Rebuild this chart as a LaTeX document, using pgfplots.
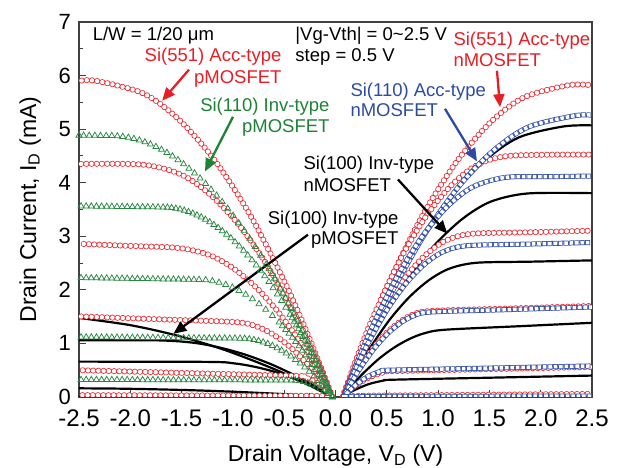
\documentclass[border=0pt]{standalone}
\usepackage{pgfplots}
\pgfplotsset{compat=1.18}
\usepackage{fontspec}
\setmainfont{Liberation Sans}
\usetikzlibrary{arrows.meta}
\definecolor{mred}{RGB}{236,32,40}
\definecolor{mgreen}{RGB}{40,135,65}
\definecolor{mblue}{RGB}{50,80,170}
\definecolor{tred}{RGB}{232,30,38}
\definecolor{tgreen}{RGB}{30,130,55}
\definecolor{tblue}{RGB}{45,75,165}
\newcommand\ann{\fontsize{18.5}{22}\selectfont}
\tikzset{
 circ/.style={mred, smooth, line width=0.8pt, double=white, double distance=4.4pt, line cap=round, dash pattern=on 0.01pt off 5.2pt},
 sq/.style={mblue, smooth, line width=0.75pt, double=white, double distance=3.5pt, line cap=rect, dash pattern=on 0.01pt off 5.4pt},
 tri/.style={mgreen, only marks, mark=triangle, mark size=3.5pt, mark options={mgreen, line width=0.75pt}},
 blk/.style={black, line width=2.2pt, smooth},
 arr/.style={-{Triangle[length=13pt,width=11pt]}, line width=2.3pt},
}
\begin{document}
\begin{tikzpicture}
\begin{axis}[
 name=ax,
 scale only axis, width=513pt, height=375pt,
 xmin=-2.5, xmax=2.5, ymin=0, ymax=7,
 xtick={-2.5,-2.0,-1.5,-1.0,-0.5,0,0.5,1.0,1.5,2.0,2.5},
 xticklabels={-2.5,-2.0,-1.5,-1.0,-0.5,0.0,0.5,1.0,1.5,2.0,2.5},
 minor x tick num=1,
 ytick={0,1,2,3,4,5,6,7}, minor y tick num=1,
 tick align=inside, tick pos=left,
 major tick length=7pt, minor tick length=4pt,
 axis line style={line width=1.1pt, black!75},
 every tick/.style={line width=0.9pt, black!75},
 /pgf/number format/assume math mode=true,
 yticklabel style={font=\fontsize{22}{26}\selectfont, inner sep=0pt, anchor=east, xshift=-8pt},
 xticklabel style={font=\fontsize{24}{28}\selectfont, inner sep=0pt, anchor=north, yshift=-13pt},
 xlabel={Drain Voltage, V\textsubscript{D} (V)},
 ylabel={Drain Current, I\textsubscript{D} (mA)},
 label style={font=\fontsize{23}{27}\selectfont},
 xlabel style={at={(axis description cs:0.5,-0.1733)}, anchor=base},
 ylabel style={at={(axis description cs:-0.0838,0.5)}, anchor=base},
]
% Si(100) Inv-type pMOSFET (black)
\addplot[blk] coordinates {(-0.03,0) (-0.33,0.289) (-0.63,0.547) (-1.08,0.878) (-1.53,1.14) (-1.98,1.334) (-2.43,1.459) (-2.5,1.472)};
\addplot[blk] coordinates {(-0.03,0) (-0.20,0.200) (-0.37,0.380) (-0.625,0.609) (-0.88,0.791) (-1.135,0.926) (-1.39,1.014) (-1.73,1.057) (-2.5,1.06)};
\addplot[blk] coordinates {(-0.03,0) (-0.15,0.124) (-0.27,0.235) (-0.45,0.377) (-0.63,0.490) (-0.81,0.573) (-0.99,0.628) (-1.23,0.655) (-2.5,0.66)};
\addplot[blk] coordinates {(-0.03,0) (-0.29,0.031) (-0.55,0.058) (-0.94,0.094) (-1.33,0.122) (-1.72,0.142) (-2.11,0.156) (-2.5,0.162)};
\addplot[blk] coordinates {(-0.03,0) (-2.5,0.008)};
% Si(100) Inv-type nMOSFET (black)
\addplot[blk] coordinates {(0.07,0) (0.285,0.960) (0.50,1.818) (0.823,2.916) (1.145,3.788) (1.468,4.431) (1.79,4.848) (2.22,5.05) (2.5,5.07)};
\addplot[blk] coordinates {(0.07,0) (0.25,0.721) (0.43,1.365) (0.70,2.190) (0.97,2.845) (1.24,3.329) (1.51,3.644) (1.87,3.799) (2.5,3.805)};
\addplot[blk] coordinates {(0.07,0) (0.20,0.474) (0.33,0.895) (0.525,1.436) (0.72,1.866) (0.915,2.187) (1.11,2.396) (1.37,2.505) (1.9,2.526) (2.5,2.55)};
\addplot[blk] coordinates {(0.07,0) (0.17,0.235) (0.27,0.442) (0.42,0.708) (0.57,0.921) (0.72,1.083) (0.87,1.192) (1.07,1.256) (1.8,1.322) (2.5,1.385)};
\addplot[blk] coordinates {(0.07,0) (0.17,0.115) (0.32,0.238) (0.47,0.307) (0.57,0.323) (1.5,0.36) (2.5,0.40)};
\addplot[blk] coordinates {(0.07,0) (2.5,0.008)};
% Si(110) Inv-type pMOSFET (green triangles)
\addplot[tri] coordinates {(-0.03,0.001) (-0.084,0.240) (-0.138,0.473) (-0.191,0.701) (-0.245,0.922) (-0.299,1.137) (-0.353,1.346) (-0.406,1.550) (-0.46,1.747) (-0.514,1.938) (-0.568,2.123) (-0.621,2.302) (-0.675,2.475) (-0.729,2.642) (-0.783,2.803) (-0.836,2.958) (-0.89,3.107) (-0.944,3.250) (-0.998,3.387) (-1.051,3.518) (-1.105,3.643) (-1.159,3.762) (-1.213,3.874) (-1.266,3.981) (-1.32,4.082) (-1.374,4.177) (-1.428,4.265) (-1.481,4.348) (-1.535,4.425) (-1.589,4.495) (-1.643,4.560) (-1.696,4.618) (-1.75,4.671) (-1.804,4.718) (-1.858,4.758) (-1.911,4.793) (-1.965,4.821) (-2.019,4.843) (-2.073,4.860) (-2.126,4.870) (-2.18,4.875) (-2.235,4.876) (-2.29,4.877) (-2.345,4.879) (-2.4,4.880) (-2.455,4.881) (-2.5,4.883)
 (-0.057,0.121) (-0.111,0.358) (-0.164,0.588) (-0.218,0.812) (-0.272,1.030) (-0.326,1.243) (-0.379,1.449) (-0.433,1.649) (-0.487,1.843) (-0.541,2.031) (-0.594,2.213) (-0.648,2.389)};
\addplot[tri] coordinates {(-0.03,0.001) (-0.071,0.175) (-0.113,0.344) (-0.154,0.509) (-0.195,0.670) (-0.236,0.826) (-0.278,0.978) (-0.319,1.126) (-0.36,1.269) (-0.401,1.408) (-0.443,1.542) (-0.484,1.672) (-0.525,1.798) (-0.566,1.920) (-0.608,2.036) (-0.649,2.149) (-0.69,2.257) (-0.731,2.361) (-0.773,2.461) (-0.814,2.556) (-0.855,2.646) (-0.896,2.733) (-0.938,2.815) (-0.979,2.892) (-1.02,2.966) (-1.061,3.034) (-1.103,3.099) (-1.144,3.159) (-1.185,3.215) (-1.226,3.266) (-1.268,3.313) (-1.309,3.356) (-1.35,3.394) (-1.391,3.428) (-1.433,3.457) (-1.474,3.482) (-1.515,3.503) (-1.556,3.519) (-1.598,3.531) (-1.639,3.539) (-1.68,3.542) (-1.73,3.543) (-1.78,3.545) (-1.83,3.546) (-1.88,3.547) (-1.93,3.548) (-1.98,3.550) (-2.03,3.551) (-2.08,3.552) (-2.13,3.553) (-2.18,3.555) (-2.23,3.556) (-2.28,3.557) (-2.33,3.558) (-2.38,3.560) (-2.43,3.561) (-2.48,3.562)
 (-0.051,0.088) (-0.092,0.260) (-0.133,0.427) (-0.174,0.590) (-0.216,0.749) (-0.257,0.903) (-0.298,1.053) (-0.339,1.198) (-0.381,1.339) (-0.422,1.476)};
\addplot[tri] coordinates {(-0.03,0.001) (-0.095,0.213) (-0.16,0.413) (-0.225,0.603) (-0.29,0.783) (-0.355,0.951) (-0.42,1.109) (-0.485,1.256) (-0.55,1.393) (-0.615,1.518) (-0.68,1.633) (-0.745,1.737) (-0.81,1.830) (-0.875,1.913) (-0.94,1.985) (-1.005,2.046) (-1.07,2.096) (-1.135,2.136) (-1.2,2.165) (-1.265,2.183) (-1.33,2.190) (-1.38,2.191) (-1.43,2.193) (-1.48,2.194) (-1.53,2.196) (-1.58,2.197) (-1.63,2.199) (-1.68,2.200) (-1.73,2.202) (-1.78,2.203) (-1.83,2.205) (-1.88,2.206) (-1.93,2.208) (-1.98,2.209) (-2.03,2.211) (-2.08,2.212) (-2.13,2.214) (-2.18,2.215) (-2.23,2.217) (-2.28,2.218) (-2.33,2.220) (-2.38,2.221) (-2.43,2.223) (-2.48,2.224)
 (-0.063,0.108) (-0.128,0.314) (-0.193,0.510) (-0.258,0.694) (-0.323,0.868) (-0.388,1.032) (-0.453,1.184) (-0.518,1.326)};
\addplot[tri] coordinates {(-0.03,0) (-0.075,0.106) (-0.12,0.207) (-0.165,0.302) (-0.21,0.392) (-0.255,0.476) (-0.30,0.555) (-0.345,0.629) (-0.39,0.697) (-0.435,0.760) (-0.48,0.817) (-0.525,0.869) (-0.57,0.916) (-0.615,0.957) (-0.66,0.993) (-0.705,1.023) (-0.75,1.048) (-0.795,1.068) (-0.84,1.082) (-0.885,1.091) (-0.93,1.094) (-0.98,1.095) (-1.03,1.095) (-1.08,1.096) (-1.13,1.097) (-1.18,1.098) (-1.23,1.098) (-1.28,1.099) (-1.33,1.100) (-1.38,1.101) (-1.43,1.101) (-1.48,1.102) (-1.53,1.103) (-1.58,1.104) (-1.63,1.104) (-1.68,1.105) (-1.73,1.106) (-1.78,1.107) (-1.83,1.107) (-1.88,1.108) (-1.93,1.109) (-1.98,1.110) (-2.03,1.110) (-2.08,1.111) (-2.13,1.112) (-2.18,1.113) (-2.23,1.113) (-2.28,1.114) (-2.33,1.115) (-2.38,1.116) (-2.43,1.116) (-2.48,1.117)};
\addplot[tri] coordinates {(-0.03,0) (-0.07,0.059) (-0.11,0.112) (-0.15,0.159) (-0.19,0.199) (-0.23,0.234) (-0.27,0.262) (-0.31,0.284) (-0.35,0.299) (-0.39,0.309) (-0.43,0.312) (-0.48,0.312) (-0.53,0.313) (-0.58,0.313) (-0.63,0.313) (-0.68,0.313) (-0.73,0.314) (-0.78,0.314) (-0.83,0.314) (-0.88,0.314) (-0.93,0.315) (-0.98,0.315) (-1.03,0.315) (-1.08,0.315) (-1.13,0.316) (-1.18,0.316) (-1.23,0.316) (-1.28,0.316) (-1.33,0.317) (-1.38,0.317) (-1.43,0.317) (-1.48,0.317) (-1.53,0.318) (-1.58,0.318) (-1.63,0.318) (-1.68,0.318) (-1.73,0.319) (-1.78,0.319) (-1.83,0.319) (-1.88,0.319) (-1.93,0.320) (-1.98,0.320) (-2.03,0.320) (-2.08,0.320) (-2.13,0.321) (-2.18,0.321) (-2.23,0.321) (-2.28,0.321) (-2.33,0.322) (-2.38,0.322) (-2.43,0.322) (-2.48,0.322)};
% Si(551) Acc-type pMOSFET (red)
\addplot[circ] coordinates {(-0.03,0) (-0.26,1.121) (-0.49,2.124) (-0.835,3.407) (-1.18,4.425) (-1.525,5.177) (-1.87,5.664) (-2.33,5.90) (-2.5,5.90)};
\addplot[circ] coordinates {(-0.03,0) (-0.215,0.821) (-0.40,1.556) (-0.678,2.497) (-0.955,3.244) (-1.233,3.798) (-1.51,4.158) (-1.88,4.338) (-2.5,4.35)};
\addplot[circ] coordinates {(-0.03,0) (-0.18,0.519) (-0.33,0.984) (-0.555,1.580) (-0.78,2.057) (-1.005,2.414) (-1.23,2.652) (-1.53,2.782) (-2.0,2.82) (-2.5,2.86)};
\addplot[circ] coordinates {(-0.03,0) (-0.125,0.262) (-0.22,0.494) (-0.363,0.793) (-0.505,1.033) (-0.648,1.212) (-0.79,1.332) (-0.98,1.399) (-1.7,1.449) (-2.5,1.505)};
\addplot[circ] coordinates {(-0.03,0) (-0.10,0.140) (-0.205,0.291) (-0.31,0.376) (-0.38,0.394) (-1.5,0.45) (-2.5,0.50)};
\addplot[circ] coordinates {(-0.03,0) (-0.1,0.015) (-0.25,0.022) (-1.0,0.027) (-2.5,0.035)};
% Si(551) Acc-type nMOSFET (red)
\addplot[circ] coordinates {(0.07,0) (0.29,1.106) (0.51,2.095) (0.84,3.361) (1.17,4.365) (1.50,5.107) (1.83,5.587) (2.27,5.82) (2.5,5.82)};
\addplot[circ] coordinates {(0.07,0) (0.232,0.853) (0.394,1.614) (0.637,2.589) (0.88,3.364) (1.123,3.939) (1.366,4.313) (1.69,4.501) (2.5,4.525)};
\addplot[circ] coordinates {(0.07,0) (0.195,0.576) (0.32,1.089) (0.508,1.746) (0.695,2.270) (0.883,2.659) (1.07,2.915) (1.32,3.046) (1.9,3.075) (2.5,3.105)};
\addplot[circ] coordinates {(0.07,0) (0.155,0.304) (0.24,0.572) (0.368,0.917) (0.495,1.193) (0.623,1.397) (0.75,1.533) (0.92,1.605) (1.7,1.652) (2.5,1.70)};
\addplot[circ] coordinates {(0.07,0) (0.17,0.173) (0.32,0.358) (0.47,0.461) (0.57,0.483) (1.5,0.52) (2.5,0.56)};
\addplot[circ] coordinates {(0.07,0) (0.2,0.02) (0.4,0.026) (1.5,0.043) (2.5,0.058)};
% Si(110) Acc-type nMOSFET (blue)
\addplot[sq] coordinates {(0.08,0) (0.305,0.998) (0.53,1.89) (0.868,3.032) (1.205,3.938) (1.543,4.607) (1.88,5.04) (2.33,5.25) (2.5,5.26)};
\addplot[sq] coordinates {(0.08,0) (0.238,0.777) (0.396,1.470) (0.633,2.358) (0.87,3.064) (1.107,3.587) (1.344,3.928) (1.66,4.100) (2.1,4.113) (2.5,4.125)};
\addplot[sq] coordinates {(0.08,0) (0.20,0.534) (0.32,1.010) (0.50,1.619) (0.68,2.104) (0.86,2.465) (1.04,2.702) (1.28,2.824) (1.9,2.855) (2.5,2.885)};
\addplot[sq] coordinates {(0.08,0) (0.165,0.301) (0.25,0.566) (0.378,0.907) (0.505,1.178) (0.633,1.381) (0.76,1.515) (0.93,1.586) (1.7,1.632) (2.5,1.68)};
\addplot[sq] coordinates {(0.08,0) (0.17,0.180) (0.305,0.372) (0.44,0.479) (0.53,0.501) (1.5,0.54) (2.5,0.58)};
\addplot[sq] coordinates {(0.08,0) (0.3,0.008) (2.5,0.018)};
% annotations
\node[anchor=base west, font=\ann] at (axis cs:-2.40,6.65) {L/W = 1/20 μm};
\node[anchor=base west, font=\ann] at (axis cs:-0.425,6.65) {|Vg-Vth| = 0\textasciitilde2.5 V};
\node[anchor=base west, font=\ann] at (axis cs:-0.425,6.26) {step = 0.5 V};
\node[anchor=base east, font=\ann, text=tred] at (axis cs:-0.492,6.26) {Si(551) Acc-type};
\node[anchor=base east, font=\ann, text=tred] at (axis cs:-0.492,5.85) {pMOSFET};
\node[anchor=base east, font=\ann, text=tgreen] at (axis cs:-0.024,5.32) {Si(110) Inv-type};
\node[anchor=base east, font=\ann, text=tgreen] at (axis cs:-0.024,4.94) {pMOSFET};
\node[anchor=base west, font=\ann] at (axis cs:-0.346,4.25) {Si(100) Inv-type};
\node[anchor=base west, font=\ann] at (axis cs:-0.346,3.84) {nMOSFET};
\node[anchor=base east, font=\ann] at (axis cs:0.648,3.22) {Si(100) Inv-type};
\node[anchor=base east, font=\ann] at (axis cs:0.648,2.84) {pMOSFET};
\node[anchor=base west, font=\ann, text=tblue] at (axis cs:0.112,5.60) {Si(110) Acc-type};
\node[anchor=base west, font=\ann, text=tblue] at (axis cs:0.112,5.23) {nMOSFET};
\node[anchor=base west, font=\ann, text=tred] at (axis cs:1.116,6.56) {Si(551) Acc-type};
\node[anchor=base west, font=\ann, text=tred] at (axis cs:1.116,6.17) {nMOSFET};
\draw[arr, tred] (axis cs:-1.428,6.11) -- (axis cs:-1.69,5.53);
\draw[arr, tgreen] (axis cs:-0.999,5.23) -- (axis cs:-1.272,4.21);
\draw[arr, black] (axis cs:-0.268,3.03) -- (axis cs:-1.58,1.18);
\draw[arr, black] (axis cs:0.609,4.06) -- (axis cs:1.09,3.05);
\draw[arr, tblue] (axis cs:1.067,5.38) -- (axis cs:1.379,4.40);
\draw[arr, tred] (axis cs:1.574,6.09) -- (axis cs:1.603,5.41);
\end{axis}
\pgfresetboundingbox
\useasboundingbox ([shift={(-79pt,-71pt)}]ax.south west) rectangle ([shift={(540pt,397pt)}]ax.south west);
\end{tikzpicture}
\end{document}
